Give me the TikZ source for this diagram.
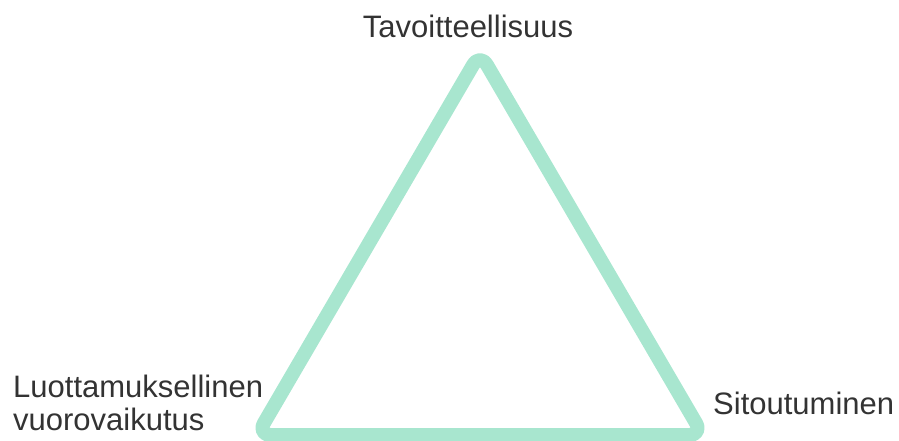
\documentclass[tikz,border=0pt]{standalone}
\usepackage{fontspec}
\setmainfont{Liberation Sans}
\definecolor{mint}{RGB}{168,230,207}
\definecolor{txt}{RGB}{51,51,51}
\begin{document}
\begin{tikzpicture}[x=1pt,y=-1pt,
  lbl/.style={inner sep=0pt,text=txt,font=\fontsize{31}{32.5}\selectfont}]
\useasboundingbox (0,0) rectangle (899,440);
\coordinate (top) at (480,53);
\coordinate (bl) at (257,435);
\coordinate (br) at (703,435);
\draw[mint,line width=14pt,rounded corners=14pt,line join=round] (top) -- (br) -- (bl) -- cycle;
\node[lbl,anchor=base] (t) at (468,37) {Tavoitteellisuus};
\node[lbl,anchor=base west,align=left] (l) at (13,430) {Luottamuksellinen\\vuorovaikutus};
\node[lbl,anchor=base west] (r) at (713,414) {Sitoutuminen};
\end{tikzpicture}
\end{document}
